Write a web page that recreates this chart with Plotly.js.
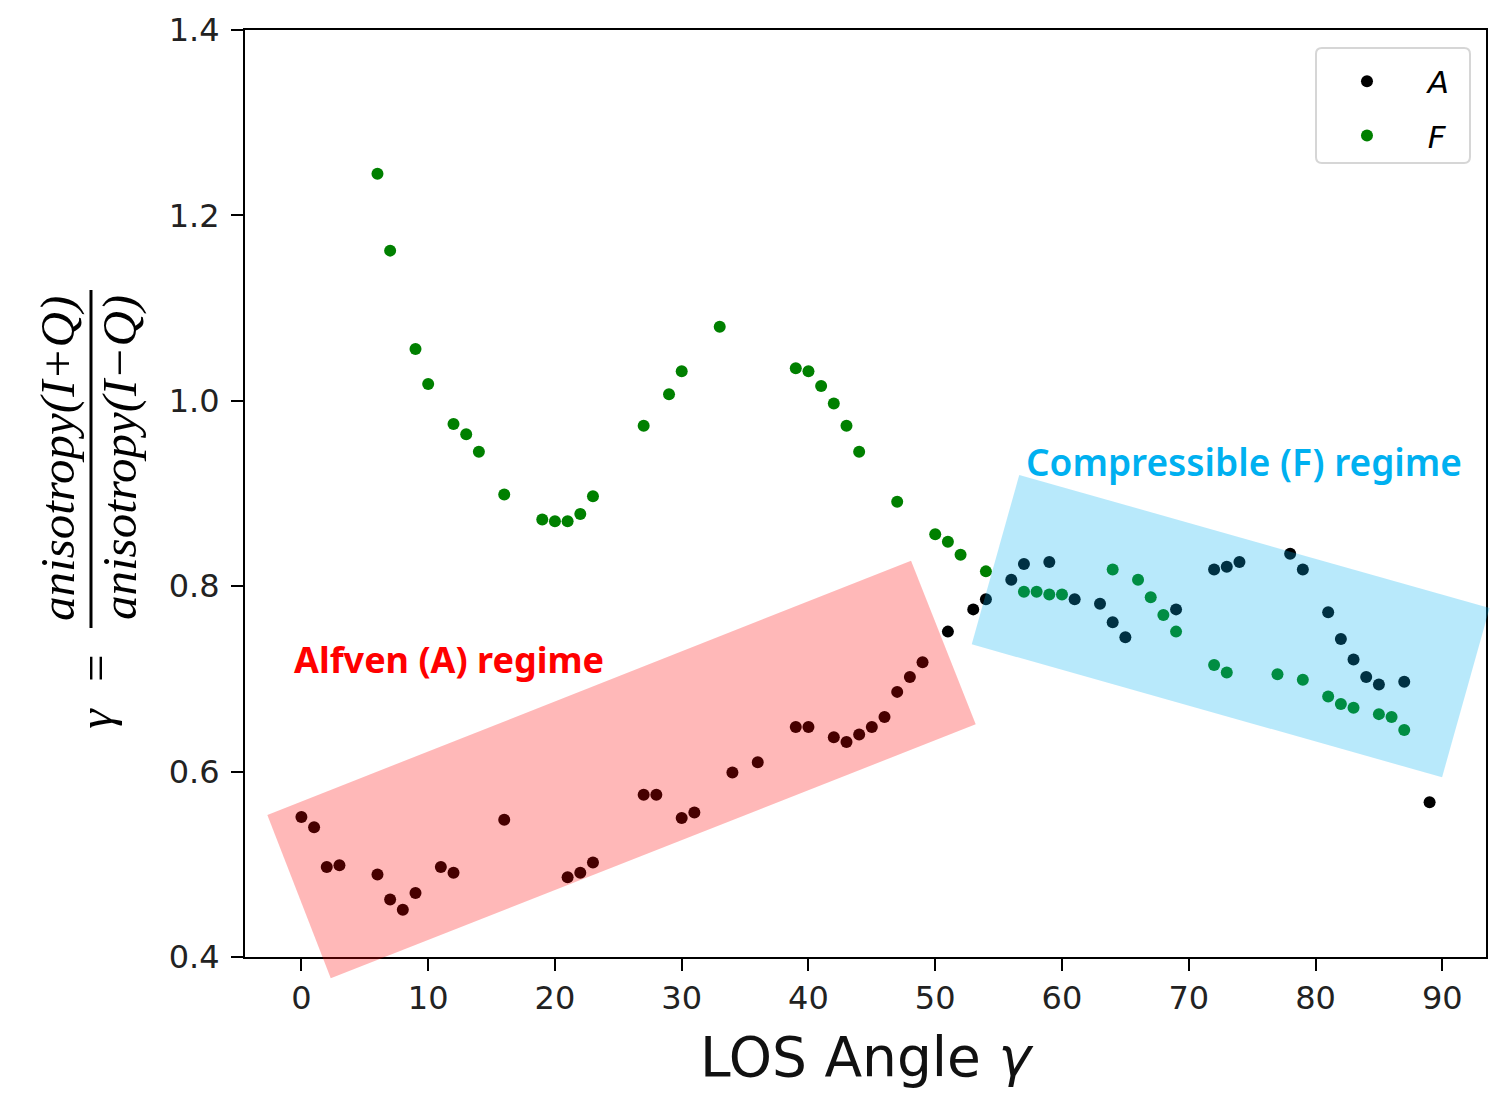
<!DOCTYPE html>
<html>
<head>
<meta charset="utf-8">
<script src="https://cdn.plot.ly/plotly-3.0.1.min.js"></script>
<style>html,body{margin:0;padding:0;background:#fff;}#chart{width:1508px;height:1113px;}</style>
</head>
<body>
<div id="chart"></div>
<script>
// ---- data ----
const A_x = [0,1,2,3,6,7,8,9,11,12,16,21,22,23,27,28,30,31,34,36,39,40,42,43,44,45,46,47,48,49,51,53,54,56,57,59,61,63,64,65,69,72,73,74,78,79,81,82,83,84,85,87,89];
const A_y = [0.551,0.540,0.497,0.499,0.489,0.462,0.451,0.469,0.497,0.491,0.548,0.486,0.491,0.502,0.575,0.575,0.550,0.556,0.599,0.610,0.648,0.648,0.637,0.632,0.640,0.648,0.659,0.686,0.702,0.718,0.751,0.775,0.786,0.807,0.824,0.826,0.786,0.781,0.761,0.745,0.775,0.818,0.821,0.826,0.835,0.818,0.772,0.743,0.721,0.702,0.694,0.697,0.567];
const F_x = [6,7,9,10,12,13,14,16,19,20,21,22,23,27,29,30,33,39,40,41,42,43,44,47,50,51,52,54,57,58,59,60,64,66,67,68,69,72,73,77,79,81,82,83,85,86,87];
const F_y = [1.245,1.162,1.056,1.018,0.975,0.964,0.945,0.899,0.872,0.870,0.870,0.878,0.897,0.973,1.007,1.032,1.080,1.035,1.032,1.016,0.997,0.973,0.945,0.891,0.856,0.848,0.834,0.816,0.794,0.794,0.791,0.791,0.818,0.807,0.788,0.769,0.751,0.715,0.707,0.705,0.699,0.681,0.673,0.669,0.662,0.659,0.645];
const seriesNames = ["A", "F"];
const xTicks = [0,10,20,30,40,50,60,70,80,90];
const yTicks = [0.4,0.6,0.8,1.0,1.2,1.4];
const regionLabels = ["Alfven (A) regime", "Compressible (F) regime"];
// regime boxes (paper fractions of the plot area, rotated rectangles)
const alfvenBox = [[0.0180,0.1532],[0.5367,0.4275],[0.5888,0.2510],[0.0691,-0.0230]];
const compBox   = [[0.5856,0.3373],[0.6239,0.5200],[1.0029,0.3765],[0.9646,0.1939]];
// legend frame (paper fractions) and corner radius
const legendFrame = {x0: 0.863, x1: 0.9871, y0: 0.8565, y1: 0.9806, rx: 0.0048, ry: 0.0065};

function pathOf(pts){ return "M" + pts.map(p => p[0] + "," + p[1]).join(" L") + " Z"; }
function roundRect(f){
  const {x0,x1,y0,y1,rx,ry} = f;
  return `M${x0+rx},${y0} L${x1-rx},${y0} Q${x1},${y0} ${x1},${y0+ry} L${x1},${y1-ry} Q${x1},${y1} ${x1-rx},${y1}` +
         ` L${x0+rx},${y1} Q${x0},${y1} ${x0},${y1-ry} L${x0},${y0+ry} Q${x0},${y0} ${x0+rx},${y0} Z`;
}
function legendLabel(s){ return "&nbsp;<i>" + s + "</i>"; }

const traces = [
  {x: A_x, y: A_y, name: legendLabel(seriesNames[0]), legendgroup: "a", type: "scatter", mode: "markers",
   marker: {color: "#000000", size: 12, line: {width: 0}}},
  {x: F_x, y: F_y, name: legendLabel(seriesNames[1]), legendgroup: "f", type: "scatter", mode: "markers",
   marker: {color: "#008000", size: 12, line: {width: 0}}}
];

const axisCommon = {
  showline: true, linecolor: "#000", linewidth: 2, mirror: true,
  ticks: "outside", ticklen: 12, tickwidth: 2, tickcolor: "#000",
  showgrid: false, zeroline: false,
  tickfont: {family: "DejaVu Sans", size: 32, color: "#222"}
};

const layout = {
  width: 1508, height: 1113,
  margin: {l: 245, r: 22, t: 30, b: 156},
  paper_bgcolor: "#fff", plot_bgcolor: "#fff",
  showlegend: true,
  legend: {x: 0.863, xanchor: "left", y: 0.9735, yanchor: "top",
           bgcolor: "rgba(0,0,0,0)", borderwidth: 0,
           font: {family: "DejaVu Sans", size: 31, color: "#000"}, itemwidth: 92,
           tracegroupgap: 11},
  xaxis: Object.assign({}, axisCommon, {
    range: [-4.45, 93.45], tickvals: xTicks, ticktext: xTicks.map(String),
    title: {text: "LOS Angle <i>γ</i>", font: {family: "DejaVu Sans", size: 55, color: "#111"}, standoff: 21}
  }),
  yaxis: Object.assign({}, axisCommon, {
    range: [0.4, 1.4], tickvals: yTicks, ticktext: yTicks.map(v => v.toFixed(1)),
    ticklabelstandoff: 5
  }),
  shapes: [
    {type: "path", xref: "paper", yref: "paper", path: pathOf(alfvenBox),
     fillcolor: "rgba(255,0,0,0.28)", line: {width: 0}, layer: "above"},
    {type: "path", xref: "paper", yref: "paper", path: pathOf(compBox),
     fillcolor: "rgba(0,176,240,0.28)", line: {width: 0}, layer: "above"},
    {type: "path", xref: "paper", yref: "paper", path: roundRect(legendFrame),
     fillcolor: "rgba(255,255,255,0.8)", line: {color: "#d6d6d6", width: 2}, layer: "above"},
    {type: "line", xref: "paper", yref: "paper", x0: -0.1241, x1: -0.1241, y0: 0.3549, y1: 0.7195,
     line: {color: "#000", width: 3}}
  ],
  annotations: [
    {xref: "paper", yref: "paper", x: 0.164, y: 0.3212, xanchor: "center", yanchor: "middle",
     text: "<b>" + regionLabels[0] + "</b>",
     showarrow: false, font: {family: "Noto Sans", size: 36, color: "#ff0000"}},
    {xref: "paper", yref: "paper", x: 0.8053, y: 0.534, xanchor: "center", yanchor: "middle",
     text: regionLabels[1],
     showarrow: false, font: {family: "Noto Sans", size: 37, color: "#00b0f0", weight: 600}},
    {xref: "paper", yref: "paper", x: -0.1507, y: 0.5383, xanchor: "center", yanchor: "middle",
     text: "anisotropy(I+Q)", textangle: -90,
     showarrow: false, font: {family: "Liberation Serif", size: 49, color: "#000", style: "italic"}},
    {xref: "paper", yref: "paper", x: -0.1007, y: 0.5383, xanchor: "center", yanchor: "middle",
     text: "anisotropy(I−Q)", textangle: -90,
     showarrow: false, font: {family: "Liberation Serif", size: 49, color: "#000", style: "italic"}},
    {xref: "paper", yref: "paper", x: -0.1210, y: 0.288, xanchor: "center", yanchor: "middle",
     text: "γ &nbsp;=", textangle: -90,
     showarrow: false, font: {family: "Liberation Serif", size: 49, color: "#000", style: "italic"}}
  ]
};

Plotly.newPlot("chart", traces, layout, {displayModeBar: false, staticPlot: true});
</script>
</body>
</html>
